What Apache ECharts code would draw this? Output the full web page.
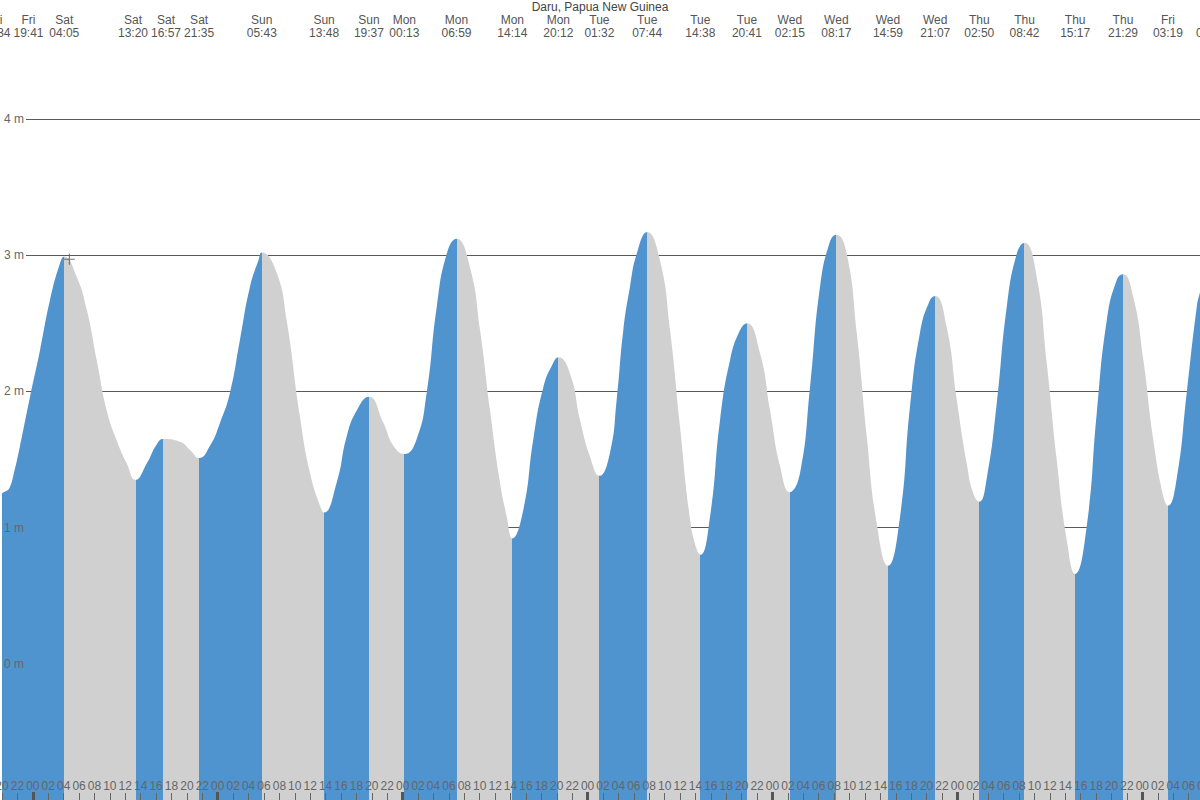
<!DOCTYPE html>
<html><head><meta charset="utf-8">
<script src="https://cdn.jsdelivr.net/npm/echarts@6/dist/echarts.min.js"></script>
<style>html,body{margin:0;padding:0;background:#fff}#c{width:1200px;height:800px}</style>
</head><body><div id="c"></div>
<script>
const chartTitle = 'Daru, Papua New Guinea';

// High / low tide extremes (day, local time, height in m; null = not visible)
const extremeDays = ['Fri','Fri','Sat','Sat','Sat','Sat','Sun','Sun','Sun','Mon','Mon','Mon','Mon','Tue','Tue','Tue','Tue','Wed','Wed','Wed','Wed','Thu','Thu','Thu','Thu','Fri','Fri'];
const extremeTimes = ['15:34','19:41','04:05','13:20','16:57','21:35','05:43','13:48','19:37','00:13','06:59','14:14','20:12','01:32','07:44','14:38','20:41','02:15','08:17','14:59','21:07','02:50','08:42','15:17','21:29','03:19','08:55'];
const extremeHeights = [null,1.25,2.99,1.35,1.65,1.51,3.02,1.11,1.96,1.54,3.12,0.92,2.25,1.38,3.17,0.80,2.50,1.26,3.15,0.72,2.70,1.19,3.09,0.66,2.86,1.16,3.02];

// Intermediate tide readings (hours since Sat 00:00, height in m)
const sampleHours = [-3.39,-2.96,-2.53,-1.66,-0.36,0.93,2.23,3.53, 5.70,7.00,8.29,9.59,10.89,12.19, 14.78,16.08, 19.10,20.40, 22.99,24.30,25.59,26.89,28.19,29.27, 31.65,32.95,34.68,35.98,37.27, 39.44,40.74,42.04, 45.49,46.79, 49.82,51.12,52.42,53.72, 56.74,58.04,59.34,60.63,61.51, 63.66,64.96,66.26,67.55, 69.72,71.02,72.32, 74.91,75.78,76.64,77.51,78.38, 81.40,82.70,84.00,85.30,86.16, 87.89,89.19,90.49,91.79, 94.38,95.68,96.98, 99.57,100.87,102.17,103.46, 105.63,106.93,108.23,109.52, 112.55,113.85,115.14,116.44, 118.61,119.91,121.21,122.06, 123.80,125.10,126.40,127.70, 130.29,131.59,132.88,134.18, 136.78,138.08,139.38,140.68, 142.83,144.13,145.43,146.72, 148.46,149.76,151.06,151.49];
const sampleHeights = [1.27,1.30,1.38,1.60,1.96,2.30,2.67,2.94, 2.84,2.60,2.23,1.86,1.64,1.47, 1.47,1.61, 1.63,1.57, 1.60,1.77,1.99,2.38,2.77,2.96, 2.87,2.52,1.81,1.40,1.16, 1.33,1.67,1.86, 1.77,1.60, 1.65,1.99,2.62,3.01, 2.91,2.45,1.86,1.33,1.08, 1.13,1.65,2.03,2.21, 2.13,1.79,1.52, 1.55,1.94,2.45,2.77,3.01, 2.96,2.45,1.74,1.06,0.84, 1.08,1.79,2.23,2.45, 2.28,1.86,1.45, 1.40,2.03,2.77,3.10, 3.01,2.43,1.67,1.03, 1.08,1.89,2.43,2.67, 2.47,1.94,1.47,1.25, 1.36,1.91,2.62,3.01, 2.84,2.21,1.50,0.91, 1.01,1.84,2.52,2.82, 2.69,2.23,1.64,1.23, 1.36,1.99,2.62,2.73];

// Marker "+" (hours since Sat 00:00, height m)
const markerPoint = [4.74, 2.97];

// Axis ticks
const yTickValues = [0, 1, 2, 3, 4];
const midnightHours = [0, 24, 48, 72, 96, 120, 144];
const xMin = -4, xMax = 152, yMin = -1, yMax = 4.873;

const BLUE = '#4f93cf', GREY = '#d0d0d0';
const FONT = "'Liberation Sans', Arial, sans-serif";
const GL = 2, GR = -4;
const pph = (1200 - GL - GR) / (xMax - xMin);

// convert extremes to hour offsets
let dayIdx = -1, prevDay = null;
const extremeHours = extremeDays.map((d, i) => {
  if (d !== prevDay) { dayIdx++; prevDay = d; }
  const [hh, mm] = extremeTimes[i].split(':').map(Number);
  return dayIdx * 24 - 24 + hh + mm / 60;
});

// high or low
const isHigh = extremeHeights.map((h, i) => {
  if (h == null) return null;
  const nb = [extremeHeights[i - 1], extremeHeights[i + 1]].filter(v => v != null);
  return nb.every(v => h > v);
});
for (let i = 0; i < isHigh.length; i++) if (isHigh[i] == null) isHigh[i] = !(isHigh[i + 1] ?? !isHigh[i - 1]);

// series data
const pts = [];
extremeHours.forEach((t, i) => { if (extremeHeights[i] != null) pts.push([t, extremeHeights[i]]); });
sampleHours.forEach((t, i) => pts.push([t, sampleHeights[i]]));
pts.sort((a, b) => a[0] - b[0]);

// rising / falling pieces
const pieces = [];
for (let i = 0; i < extremeHours.length; i++) {
  const rising = i + 1 < extremeHours.length ? isHigh[i + 1] : false;
  const p = { gte: extremeHours[i], color: rising ? BLUE : GREY };
  if (i + 1 < extremeHours.length) p.lt = extremeHours[i + 1];
  pieces.push(p);
}
pieces.unshift({ lt: extremeHours[0], color: BLUE });

// top label layout (spread overlapping labels)
const minSep = 33 / pph;
const leftClamp = xMin + (-4.5 - GL) / pph;
const pos = extremeHours.slice();
for (let it = 0; it < 300; it++) {
  if (pos[0] < leftClamp) pos[0] = leftClamp;
  for (let i = 1; i < pos.length; i++) {
    const gap = pos[i] - pos[i - 1];
    if (gap < minSep - 1e-9) {
      const over = minSep - gap;
      if (i - 1 === 0 && pos[0] <= leftClamp + 1e-9) pos[i] += over;
      else { pos[i - 1] -= over / 2; pos[i] += over / 2; }
    }
  }
}
const labelText = pos.map((p, i) => ({ p, t: extremeDays[i] + '\n' + extremeTimes[i] }));
const EXT = 80;
const topMin = xMin - EXT / pph, topMax = xMax + EXT / pph;
const topValues = [topMin + 0.05].concat(pos, [topMax - 0.05]);

const pad2 = n => (n < 10 ? '0' : '') + n;
const gridBase = { containLabel: false, outerBoundsMode: 'none' };

const chart = echarts.init(document.getElementById('c'), null, { renderer: 'svg' });
chart.setOption({
  animation: false,
  backgroundColor: '#fff',
  textStyle: { fontFamily: FONT },
  title: { text: chartTitle, left: 'center', top: 0, padding: [1, 0, 0, 0], textStyle: { fontSize: 12, fontWeight: 'normal', color: '#444', fontFamily: FONT } },
  grid: [
    Object.assign({ left: GL, right: GR, top: 0, bottom: 0 }, gridBase),
    Object.assign({ left: 26, right: 0, top: 0, bottom: 0 }, gridBase),
    Object.assign({ left: GL - EXT, right: GR - EXT, top: 0, bottom: 0 }, gridBase)
  ],
  xAxis: [
    { gridIndex: 0, type: 'value', position: 'bottom', min: xMin, max: xMax, interval: 2, z: 5,
      axisLine: { show: false, onZero: false }, splitLine: { show: false },
      axisTick: { show: true, inside: true, length: 7, lineStyle: { color: '#666', width: 1 } },
      axisLabel: { inside: true, margin: 8, color: '#666', fontSize: 12, fontFamily: FONT,
        formatter: v => pad2(((Math.round(v) % 24) + 24) % 24) } },
    { gridIndex: 0, type: 'value', position: 'bottom', min: xMin, max: xMax, z: 6,
      axisLine: { show: false, onZero: false }, splitLine: { show: false }, axisLabel: { show: false },
      axisTick: { show: true, inside: true, length: 8, customValues: midnightHours, lineStyle: { color: '#555', width: 3 } } },
    { gridIndex: 1, type: 'value', min: 0, max: 1, show: false },
    { gridIndex: 2, type: 'value', position: 'top', min: topMin, max: topMax, z: 5,
      axisLine: { show: false, onZero: false }, axisTick: { show: false }, splitLine: { show: false },
      axisLabel: { inside: true, margin: 13, color: '#555', fontSize: 12, lineHeight: 13, fontFamily: FONT,
        customValues: topValues, align: 'center', verticalAlign: 'top', hideOverlap: false,
        alignMinLabel: 'center', alignMaxLabel: 'center',
        formatter: v => {
          let best = labelText[0];
          labelText.forEach(o => { if (Math.abs(o.p - v) < Math.abs(best.p - v)) best = o; });
          return Math.abs(best.p - v) < 1e-6 ? best.t : '';
        } } }
  ],
  yAxis: [
    { gridIndex: 0, type: 'value', min: yMin, max: yMax, interval: 1, z: 5,
      axisLine: { show: false, onZero: false }, axisTick: { show: false }, splitLine: { show: false },
      axisLabel: { inside: true, margin: 2, color: '#666', fontSize: 12, fontFamily: FONT,
        customValues: yTickValues, formatter: v => v + ' m' } },
    { gridIndex: 1, type: 'value', min: yMin, max: yMax, interval: 1, z: 0,
      axisLine: { show: false, onZero: false }, axisTick: { show: false }, axisLabel: { show: false },
      splitLine: { show: true, showMinLine: false, showMaxLine: false, lineStyle: { color: '#5a5a5a', width: 1 } } },
    { gridIndex: 2, type: 'value', min: 0, max: 1, show: false }
  ],
  visualMap: { type: 'piecewise', show: false, dimension: 0, seriesIndex: 0, pieces: pieces, outOfRange: { color: GREY } },
  series: [
    { type: 'line', xAxisIndex: 0, yAxisIndex: 0, data: pts, symbol: 'none', showSymbol: false,
      smooth: 0.5, z: 2,
      lineStyle: { width: 0, opacity: 0 }, areaStyle: { opacity: 1, origin: 'start' } },
    { type: 'scatter', xAxisIndex: 0, yAxisIndex: 0, data: [markerPoint], z: 4,
      symbol: 'path://M4.5,0h1v4.5h4.5v1h-4.5v4.5h-1v-4.5h-4.5v-1h4.5z', symbolSize: 11,
      itemStyle: { color: '#555' }, silent: true }
  ]
});
</script></body></html>
